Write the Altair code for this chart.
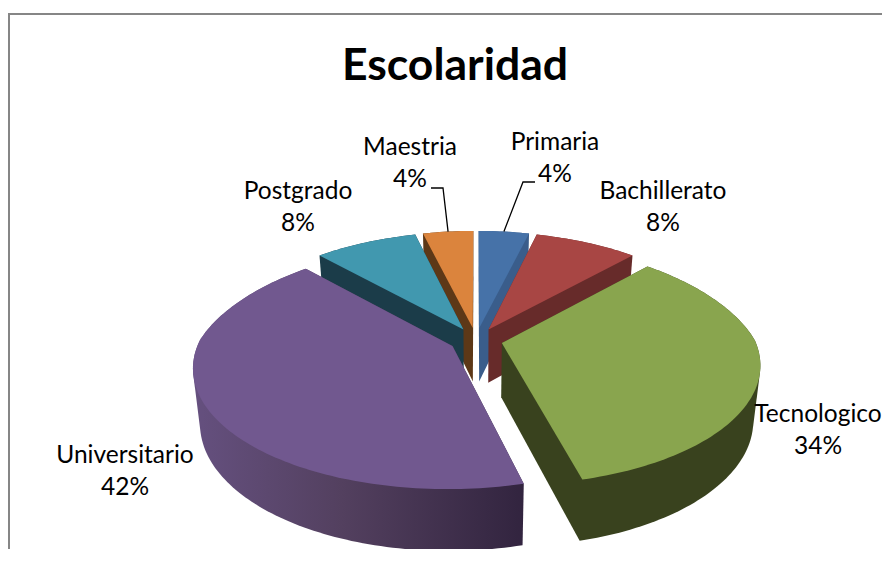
import math
import altair as alt
import pandas as pd

categories = ["Primaria", "Bachillerato", "Tecnologico", "Universitario", "Postgrado", "Maestria"]
shares = [4, 8, 34, 42, 8, 4]
top_colors = ["#4672a8", "#a84644", "#89a54e", "#71588f", "#4198af", "#db843d"]
wall_colors = ["#3a5d8b", "#672b2a", "#39421e", None, "#1b3c49", "#5d3817"]
paint_order = ["Primaria", "Maestria", "Bachillerato", "Postgrado", "Tecnologico", "Universitario"]
title_text = "Escolaridad"

# page-pixel frame used for the fixed scales
X_DOMAIN = [8, 882]
Y_DOMAIN = [549, 8]
FONT = "Lato"

# pie projection
CX, CY, R, S, P, EXPLODE, DEPTH, SHRINK = 476, 340, 253, 117, 0.167, 0.105, 54, 0.975
BACK_TAPER = 0.055


def project(u, v):
    w = 1 + P * v
    taper = 1 + BACK_TAPER * max(v, 0)
    return CX + R * u / (w * taper), CY - S * v / w, w


def bottom(px, py, w):
    return CX + (px - CX) * SHRINK, CY + (py - CY) * SHRINK + DEPTH / w


def hull(points):
    pts = sorted(set(points))
    def half(seq):
        out = []
        for p in seq:
            while len(out) > 1 and (out[-1][0] - out[-2][0]) * (p[1] - out[-2][1]) - (out[-1][1] - out[-2][1]) * (p[0] - out[-2][0]) <= 0:
                out.pop()
            out.append(p)
        return out[:-1]
    return half(pts) + half(pts[::-1])


total = sum(shares)
slices = {}
start = 0
for name, share, top_c, wall_c in zip(categories, shares, top_colors, wall_colors):
    a0 = 2 * math.pi * start / total
    a1 = 2 * math.pi * (start + share) / total
    mid = (a0 + a1) / 2
    ou, ov = EXPLODE * math.sin(mid), EXPLODE * math.cos(mid)
    n = max(6, share * 3)
    rim = [a0 + (a1 - a0) * i / n for i in range(n + 1)]
    top = [project(ou, ov)] + [project(ou + math.sin(t), ov + math.cos(t)) for t in rim]
    low = [bottom(*p) for p in top]
    slices[name] = dict(
        top=[(p[0], p[1]) for p in top],
        wall=hull([(p[0], p[1]) for p in top] + low),
        top_color=top_c,
        wall_color=wall_c,
        mid=project(ou + math.sin(mid), ov + math.cos(mid)),
    )
    start += share

univ_wall = alt.LinearGradient(
    gradient="linear", x1=0, x2=1, y1=0, y2=0,
    stops=[alt.GradientStop(offset=0, color="#65507f"),
           alt.GradientStop(offset=0.45, color="#53405f"),
           alt.GradientStop(offset=1, color="#32243f")],
)

xs = alt.Scale(domain=X_DOMAIN, nice=False, zero=False)
ys = alt.Scale(domain=Y_DOMAIN, nice=False, zero=False)


def polygon(points, fill):
    pts = list(points) + [points[0]]
    df = pd.DataFrame({"x": [p[0] for p in pts], "y": [p[1] for p in pts], "i": range(len(pts))})
    return alt.Chart(df).mark_line(fill=fill, stroke=None, strokeWidth=0, interpolate="linear").encode(
        x=alt.X("x:Q", scale=xs, axis=None),
        y=alt.Y("y:Q", scale=ys, axis=None),
        order="i:Q",
    )


def stroke_line(points, color, width):
    df = pd.DataFrame({"x": [p[0] for p in points], "y": [p[1] for p in points], "i": range(len(points))})
    return alt.Chart(df).mark_line(color=color, strokeWidth=width).encode(
        x=alt.X("x:Q", scale=xs, axis=None),
        y=alt.Y("y:Q", scale=ys, axis=None),
        order="i:Q",
    )


layers = []
for name in paint_order:
    s = slices[name]
    layers.append(polygon(s["wall"], s["wall_color"] or univ_wall))
    layers.append(polygon(s["top"], s["top_color"]))

# frame
layers.append(stroke_line([(9, 549), (9, 14), (882, 14)], "#868686", 2))

# leader lines
pm, mm = slices["Primaria"]["mid"], slices["Maestria"]["mid"]
layers.append(stroke_line([(pm[0], pm[1]), (523, 182), (535, 182)], "#000000", 1.3))
layers.append(stroke_line([(mm[0], mm[1]), (443, 188), (431, 188)], "#000000", 1.3))

# labels
label_x = [555, 663, 818, 125, 298, 410]
label_y = [143, 192, 415, 456, 192, 148]
LINE = 32
rows = []
for name, share, lx, ly in zip(categories, shares, label_x, label_y):
    rows.append({"x": lx, "y": ly, "t": name})
    rows.append({"x": lx, "y": ly + LINE, "t": f"{share}%"})
layers.append(alt.Chart(pd.DataFrame(rows)).mark_text(font=FONT, fontSize=24.5, color="#000000", align="center", baseline="middle").encode(
    x=alt.X("x:Q", scale=xs, axis=None), y=alt.Y("y:Q", scale=ys, axis=None), text="t:N"))

layers.append(alt.Chart(pd.DataFrame([{"x": 455, "y": 67, "t": title_text}])).mark_text(font=FONT, fontSize=44.5, fontWeight="bold", color="#000000", align="center", baseline="middle").encode(
    x=alt.X("x:Q", scale=xs, axis=None), y=alt.Y("y:Q", scale=ys, axis=None), text="t:N"))

chart = alt.layer(*layers).properties(width=874, height=541, padding=0, background="#ffffff",
    autosize=alt.AutoSizeParams(type="none", contains="padding")).configure_view(stroke=None)
chart.save("out.html", embed_options={"renderer": "svg", "actions": False})
